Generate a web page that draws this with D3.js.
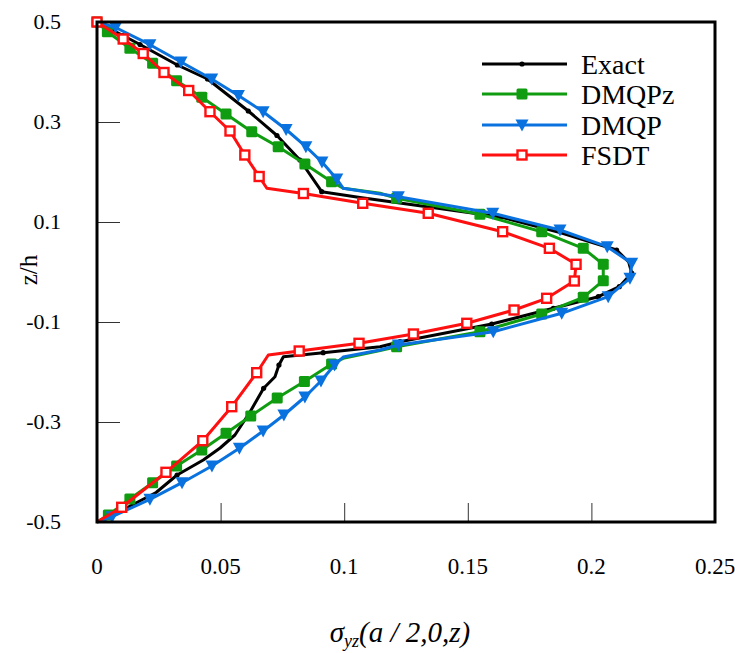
<!DOCTYPE html>
<html lang="en">
<head>
    <meta charset="utf-8">
    <script src="https://d3js.org/d3.v7.min.js"></script>
    <style>
        body { margin: 0; background: #fff; }
    </style>
</head>
<body>
    <div class="chart"></div>
    <script>
        // values: [sigma_yz, z/h, marker?]
        const exactPts = [
            [0, 0.5, 1], [0.0105, 0.473, 1], [0.0174, 0.455, 1], [0.0325, 0.414, 1], [0.0447, 0.386, 1],
            [0.0612, 0.322, 1], [0.0728, 0.273, 1], [0.0821, 0.224, 1], [0.0909, 0.1606, 1], [0.1064, 0.149, 0],
            [0.1634, 0.11, 1], [0.1873, 0.079, 0], [0.2102, 0.044, 1], [0.2151, 0.02, 0], [0.2163, -0.002, 1],
            [0.2113, -0.0294, 1], [0.2028, -0.0494, 1], [0.1846, -0.0726, 1], [0.1597, -0.104, 1], [0.1226, -0.1394, 1],
            [0.1145, -0.1494, 0], [0.0915, -0.1614, 1], [0.0754, -0.1694, 0], [0.0736, -0.186, 1], [0.072, -0.2094, 0],
            [0.0674, -0.2326, 1], [0.0619, -0.28, 0], [0.0558, -0.326, 0], [0.0498, -0.352, 0], [0.043, -0.376, 0],
            [0.0324, -0.406, 1], [0.0239, -0.441, 0], [0.0138, -0.467, 0], [0.0045, -0.4926, 0], [0, -0.5, 0]
        ];
        const dmqpzPts = [
            [0, 0.5, 1], [0.0042, 0.4806, 1], [0.0133, 0.4474, 1], [0.0225, 0.4174, 1], [0.0322, 0.3826, 1],
            [0.0424, 0.3494, 1], [0.0522, 0.316, 1], [0.0626, 0.2806, 1], [0.0733, 0.2506, 1], [0.0841, 0.216, 1],
            [0.0949, 0.1806, 1], [0.0996, 0.1674, 0], [0.1145, 0.1574, 0], [0.1212, 0.1474, 1], [0.1549, 0.1154, 1],
            [0.1799, 0.0806, 1], [0.1967, 0.0474, 1], [0.2048, 0.0154, 1], [0.2048, -0.0174, 1], [0.1967, -0.0506, 1],
            [0.1799, -0.084, 1], [0.1549, -0.1194, 1], [0.1212, -0.1494, 1], [0.1145, -0.157, 0], [0.0996, -0.1726, 0],
            [0.0949, -0.184, 1], [0.0839, -0.219, 1], [0.0729, -0.252, 1], [0.0622, -0.288, 1], [0.0522, -0.3226, 1],
            [0.0424, -0.356, 1], [0.0322, -0.388, 1], [0.0225, -0.4214, 1], [0.0133, -0.454, 1], [0.0046, -0.486, 1],
            [0, -0.5, 0]
        ];
        const dmqpPts = [
            [0, 0.5, 0], [0.0075, 0.489, 1], [0.0214, 0.4546, 1], [0.034, 0.42, 1], [0.0464, 0.386, 1],
            [0.0572, 0.353, 1], [0.0672, 0.3206, 1], [0.0765, 0.285, 1], [0.0845, 0.2506, 1], [0.091, 0.22, 1],
            [0.097, 0.186, 1], [0.0996, 0.1674, 0], [0.1145, 0.156, 0], [0.1219, 0.1506, 1], [0.1601, 0.1174, 1],
            [0.1873, 0.084, 1], [0.2064, 0.0506, 1], [0.2163, 0.0174, 1], [0.2156, -0.0126, 1], [0.2068, -0.0494, 1],
            [0.188, -0.0826, 1], [0.1603, -0.1194, 1], [0.1219, -0.146, 1], [0.1145, -0.156, 0], [0.0996, -0.17, 0],
            [0.0961, -0.186, 1], [0.0906, -0.218, 1], [0.0841, -0.25, 1], [0.0756, -0.286, 1], [0.0672, -0.318, 1],
            [0.0576, -0.3526, 1], [0.0465, -0.388, 1], [0.0344, -0.4214, 1], [0.0214, -0.4546, 1], [0.0061, -0.4894, 1],
            [0, -0.5, 0]
        ];
        const fsdtPts = [
            [0, 0.5, 1], [0.0106, 0.466, 1], [0.0187, 0.437, 1], [0.0271, 0.399, 1], [0.0371, 0.363, 1],
            [0.0457, 0.3206, 1], [0.0538, 0.282, 1], [0.0598, 0.234, 1], [0.0656, 0.191, 1], [0.0687, 0.1674, 0],
            [0.0835, 0.157, 1], [0.1075, 0.1374, 1], [0.134, 0.1174, 1], [0.1641, 0.0806, 1], [0.183, 0.0474, 1],
            [0.1938, 0.0154, 1], [0.1931, -0.018, 1], [0.1819, -0.0526, 1], [0.1687, -0.076, 1], [0.1496, -0.1026, 1],
            [0.128, -0.124, 1], [0.106, -0.1426, 1], [0.0818, -0.158, 1], [0.0693, -0.166, 0], [0.0646, -0.2014, 1],
            [0.0545, -0.2694, 1], [0.0428, -0.3374, 1], [0.0279, -0.4006, 1], [0.01, -0.4706, 1], [0, -0.5, 0]
        ];

        const seriesNames = ["Exact", "DMQPz", "DMQP", "FSDT"];
        const seriesColors = ["#000000", "#109c10", "#0a72de", "#ff1010"];
        const seriesData = [exactPts, dmqpzPts, dmqpPts, fsdtPts];

        const xTicks = [0, 0.05, 0.1, 0.15, 0.2, 0.25];
        const xTickLabels = ["0", "0.05", "0.1", "0.15", "0.2", "0.25"];
        const yTicks = [0.5, 0.3, 0.1, -0.1, -0.3, -0.5];
        const yTickLabels = ["0.5", "0.3", "0.1", "-0.1", "-0.3", "-0.5"];

        const width = 735;
        const height = 653;
        const plotLeft = 97, plotRight = 715, plotTop = 22, plotBottom = 522;
        const serif = "'Liberation Serif', 'Times New Roman', 'DejaVu Serif', serif";

        const svg = d3.select(".chart").append("svg")
            .attr("width", width)
            .attr("height", height)
            .style("font-family", serif);

        const x = d3.scaleLinear().domain([0, 0.25]).range([plotLeft, plotRight]);
        const y = d3.scaleLinear().domain([-0.5, 0.5]).range([plotBottom, plotTop]);

        // inner ticks, no gridlines
        const xAxis = d3.axisTop(x).tickValues(xTicks.slice(1, -1)).tickSize(19).tickFormat("");
        svg.append("g")
            .attr("transform", "translate(0," + plotBottom + ")")
            .call(xAxis)
            .call(g => g.select(".domain").remove())
            .selectAll("line").attr("stroke", "#333").attr("stroke-width", 1);

        const yAxis = d3.axisRight(y).tickValues(yTicks.slice(1, -1)).tickSize(23).tickFormat("");
        svg.append("g")
            .attr("transform", "translate(" + plotLeft + ",0)")
            .call(yAxis)
            .call(g => g.select(".domain").remove())
            .selectAll("line").attr("stroke", "#333").attr("stroke-width", 1);

        // tick labels
        svg.append("g").selectAll("text")
            .data(xTicks)
            .enter()
            .append("text")
            .attr("x", d => x(d))
            .attr("y", 574)
            .attr("text-anchor", "middle")
            .style("font-family", serif)
            .style("font-size", "23px")
            .text((d, i) => xTickLabels[i]);

        svg.append("g").selectAll("text")
            .data(yTicks)
            .enter()
            .append("text")
            .attr("x", 61)
            .attr("y", d => y(d) + 7)
            .attr("text-anchor", "end")
            .style("font-family", serif)
            .style("font-size", "22px")
            .text((d, i) => yTickLabels[i]);

        // axis titles
        svg.append("text")
            .attr("transform", "translate(37,270) rotate(-90)")
            .attr("text-anchor", "middle")
            .style("font-family", serif)
            .style("font-size", "25px")
            .text("z/h");

        const xt = svg.append("text")
            .attr("x", 400)
            .attr("y", 642)
            .attr("text-anchor", "middle")
            .style("font-family", serif)
            .style("font-size", "29px")
            .style("font-style", "italic");
        xt.append("tspan").text("σ");
        xt.append("tspan").attr("dy", 5).style("font-size", "18px").text("yz");
        xt.append("tspan").attr("dy", -5).text("(a / 2,0,z)");

        // curves
        const line = d3.line().x(d => x(d[0])).y(d => y(d[1]));

        function drawMarker(g, kind, color, cx, cy) {
            if (kind === 0) {
                g.append("circle").attr("cx", cx).attr("cy", cy).attr("r", 2.6).attr("fill", color);
            } else if (kind === 1) {
                g.append("rect").attr("x", cx - 5.5).attr("y", cy - 5.5).attr("width", 11).attr("height", 11)
                    .attr("rx", 1.5).attr("fill", color);
            } else if (kind === 2) {
                g.append("path").attr("transform", "translate(" + cx + "," + cy + ")")
                    .attr("d", "M-6.5,-5.5L6.5,-5.5L0,6.5Z").attr("fill", color);
            } else {
                g.append("rect").attr("x", cx - 4.5).attr("y", cy - 4.5).attr("width", 9).attr("height", 9)
                    .attr("fill", "#fff").attr("stroke", color).attr("stroke-width", 2.4);
            }
        }

        seriesData.forEach((pts, k) => {
            const g = svg.append("g");
            g.append("path")
                .datum(pts)
                .attr("fill", "none")
                .attr("stroke", seriesColors[k])
                .attr("stroke-width", 3)
                .attr("stroke-linejoin", "round")
                .attr("d", line);
            pts.filter(d => d[2]).forEach(d => drawMarker(g, k, seriesColors[k], x(d[0]), y(d[1])));
        });

        // plot frame
        svg.append("rect")
            .attr("x", plotLeft).attr("y", plotTop)
            .attr("width", plotRight - plotLeft).attr("height", plotBottom - plotTop)
            .attr("fill", "none").attr("stroke", "#000").attr("stroke-width", 3);

        // legend
        const legend = svg.append("g");
        const rowY = [64, 94, 125, 155];
        seriesNames.forEach((name, k) => {
            legend.append("line")
                .attr("x1", 482).attr("x2", 567)
                .attr("y1", rowY[k]).attr("y2", rowY[k])
                .attr("stroke", seriesColors[k]).attr("stroke-width", 3);
            drawMarker(legend, k, seriesColors[k], 522, rowY[k]);
            legend.append("text")
                .attr("x", 581).attr("y", rowY[k] + 10)
                .style("font-family", serif)
                .style("font-size", "28px")
                .text(name);
        });
    </script>
</body>
</html>
